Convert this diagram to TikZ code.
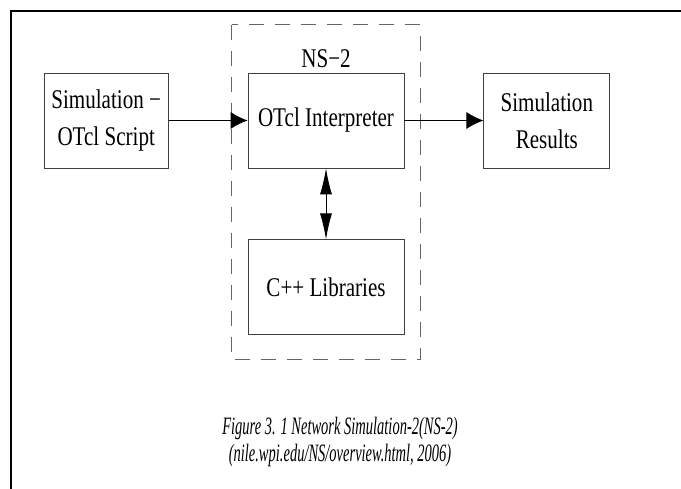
\documentclass[tikz,border=0pt]{standalone}
\usepackage{fontspec}
\setmainfont{Liberation Serif}[FakeStretch=0.78]
\newfontfamily\captionfont{Liberation Serif}[FakeStretch=0.58]
\usetikzlibrary{arrows.meta, positioning, calc}
\tikzstyle{block} = [rectangle, minimum width=156pt, minimum height=95pt, inner sep=2pt, text centered, align=center, draw=black!75, line width=0.8pt, font=\fontsize{27}{37}\selectfont]
\tikzstyle{arrow} = [line width=0.8pt, -{Latex[length=17pt,width=17pt]}]
\tikzstyle{dblarrow} = [line width=0.8pt, {Latex[length=26pt,width=12pt]}-{Latex[length=26pt,width=12pt]}]
\tikzstyle{nsbox} = [draw=black!60, line width=0.8pt, dash pattern=on 15pt off 11pt]

\begin{document}
\begin{tikzpicture}[x=1pt, y=1pt]
\useasboundingbox (0,0) rectangle (681,489);
% Frame
\draw[line width=2.2pt] (11,0) -- (11,478) -- (682,478);

% Nodes
\node (interp) [block] at (326,368.5) {OTcl Interpreter};
\node (libs) [block, below=71pt of interp] {C++ Libraries};
\node (script) [block, minimum width=124pt, left=79pt of interp] {Simulation −\\OTcl Script};
\node (results) [block, minimum width=126pt, right=79pt of interp] {Simulation\\Results};
\node (nstitle) [anchor=base, inner sep=0pt, font=\fontsize{27}{30}\selectfont] at ($(interp.north)+(0,5)$) {NS−2};

% NS-2 boundary
\draw[nsbox] ($(interp.north west)+(-16,48)$) rectangle ($(libs.south east)+(16,-24)$);

% Arrows
\draw [arrow] (script) -- (interp);
\draw [arrow] (interp) -- (results);
\draw [dblarrow] (interp) -- (libs);

% Caption
\node (caption) [align=center, font=\fontsize{25}{27}\captionfont\itshape] at (340,47) {Figure 3. 1 Network Simulation-2(NS-2)\\(nile.wpi.edu/NS/overview.html, 2006)};
\end{tikzpicture}
\end{document}
